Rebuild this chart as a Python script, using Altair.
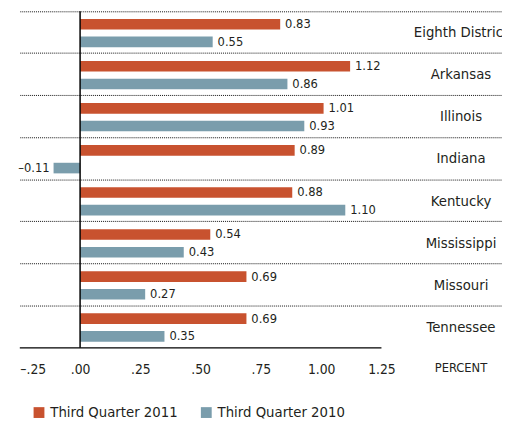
import altair as alt
import pandas as pd

categories = ["Eighth District", "Arkansas", "Illinois", "Indiana",
              "Kentucky", "Mississippi", "Missouri", "Tennessee"]
series = ["Third Quarter 2011", "Third Quarter 2010"]
q3_2011 = [0.83, 1.12, 1.01, 0.89, 0.88, 0.54, 0.69, 0.69]
q3_2010 = [0.55, 0.86, 0.93, -0.11, 1.10, 0.43, 0.27, 0.35]
x_ticks = [-0.25, 0.0, 0.25, 0.5, 0.75, 1.0, 1.25]
colors = ["#C8522F", "#7A9DAC"]

FONT = "DejaVu Sans Condensed, Liberation Sans Narrow, sans-serif"
TXT = "#231F20"

rows = []
for i, c in enumerate(categories):
    for s, vals in zip(series, [q3_2011, q3_2010]):
        v = vals[i]
        rows.append({"category": c, "series": s, "value": v,
                     "label": f"{v:.2f}".replace("-", "\u2013")})
df = pd.DataFrame(rows)
cat_df = pd.DataFrame({"category": categories})
one_df = pd.DataFrame({"unit": ["PERCENT"]})

W, H = 490, 342
LABEL_X = 1.58

xscale = alt.Scale(domain=[-0.25, 1.75], nice=False, zero=False)
yscale = alt.Scale(domain=categories, paddingInner=0, paddingOuter=0)
yoff = alt.YOffset("series:N", sort=series,
                   scale=alt.Scale(paddingInner=0.4, paddingOuter=0.39, align=0.55))

label_expr = ("(datum.value < 0 ? '\u2013' : '') + (abs(datum.value) < 1 ? "
              "substring(format(abs(datum.value), '.2f'), 1) : format(abs(datum.value), '.2f'))")

bars = alt.Chart(df).mark_bar().encode(
    x=alt.X("value:Q", scale=xscale,
            axis=alt.Axis(values=x_ticks, grid=False, domain=False, ticks=False,
                          labelExpr=label_expr, labelFontSize=14, labelPadding=15,
                          labelFont=FONT, labelColor=TXT, labelFontWeight="normal",
                          title=None)),
    y=alt.Y("category:N", scale=yscale, sort=categories,
            axis=alt.Axis(title=None, labels=False, ticks=False, domain=False,
                          grid=True, gridDash=[1, 1], gridColor="#111",
                          gridWidth=1, bandPosition=0)),
    yOffset=yoff,
    color=alt.Color("series:N", sort=series,
                    scale=alt.Scale(domain=series, range=colors),
                    legend=alt.Legend(orient="none", legendX=12, legendY=400,
                                      direction="horizontal", title=None,
                                      symbolType="square", symbolSize=121,
                                      symbolStrokeWidth=0, symbolOpacity=1,
                                      labelFontSize=15, labelFont=FONT,
                                      labelFontWeight="normal",
                                      labelColor=TXT, labelOffset=4,
                                      columnPadding=21)),
)

pos_labels = alt.Chart(df).transform_filter("datum.value >= 0").mark_text(
    align="left", baseline="middle", dx=5, fontSize=13, font=FONT, color=TXT,
    fontWeight="normal"
).encode(
    x=alt.X("value:Q", scale=xscale),
    y=alt.Y("category:N", scale=yscale, sort=categories),
    yOffset=yoff,
    text="label:N",
)

neg_labels = alt.Chart(df).transform_filter("datum.value < 0").mark_text(
    align="right", baseline="middle", dx=-4, fontSize=13, font=FONT, color=TXT,
    fontWeight="normal"
).encode(
    x=alt.X("value:Q", scale=xscale),
    y=alt.Y("category:N", scale=yscale, sort=categories),
    yOffset=yoff,
    text="label:N",
)

cat_labels = alt.Chart(cat_df).mark_text(
    align="center", baseline="middle", fontSize=15, font=FONT, color=TXT,
    fontWeight="normal"
).encode(
    x=alt.datum(LABEL_X, scale=xscale),
    y=alt.Y("category:N", scale=yscale, sort=categories),
    text="category:N",
)

zero_rule = alt.Chart(one_df).mark_rule(color="#000", strokeWidth=1.5).encode(
    x=alt.datum(0, scale=xscale)
)

base_rule = alt.Chart(one_df).mark_rule(color="#000", strokeWidth=1.2).encode(
    x=alt.datum(x_ticks[0], scale=xscale),
    x2=alt.datum(x_ticks[-1]),
    y=alt.value(H),
)

percent = alt.Chart(one_df).mark_text(
    align="center", baseline="middle", fontSize=13, font=FONT, color=TXT,
    fontWeight="normal"
).encode(
    x=alt.datum(LABEL_X, scale=xscale),
    y=alt.value(H + 21),
    text="unit:N",
)

chart = alt.layer(bars, pos_labels, neg_labels, cat_labels, zero_rule, base_rule, percent).properties(
    width=W, height=H,
    autosize=alt.AutoSizeParams(type="none"),
    padding={"left": 12, "top": 0, "right": 0, "bottom": 73},
).configure_view(stroke=None)

chart.save("out.html", embed_options={"renderer": "svg", "actions": False})
